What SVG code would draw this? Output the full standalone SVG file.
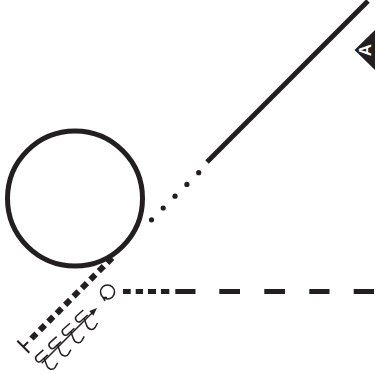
<svg xmlns="http://www.w3.org/2000/svg" width="377" height="374" viewBox="0 0 377 374">
<style>
.k{fill:none;stroke:#231f20}
.h{fill:none;stroke:#231f20;stroke-width:1.5}
</style>
<defs>
<g id="hooks">
<path class="h" d="M-1.7,-10L-8.5,-4C-11,-1.5 -8,3.5 -4.5,1.5L2.7,-5"/>
<path class="h" d="M-1,-2L1.5,5C3,10 8,10.5 10,7.5L12.5,3"/>
</g>
</defs>
<rect width="377" height="374" fill="#fff"/>
<g id="circle"><circle class="k" cx="75" cy="198.5" r="67.5" stroke-width="5"/></g>
<g id="triangle">
<path d="M354.5,50L375,30V70Z" fill="#231f20"/>
<text transform="translate(371,50) rotate(-90)" text-anchor="middle" font-family="Liberation Sans, sans-serif" font-weight="bold" font-size="17" fill="#fff">A</text>
</g>
<g id="small-circle">
<circle class="k" cx="107.5" cy="292" r="7" stroke-width="1.5"/>
<path class="k" stroke-width="1.5" d="M103,297.5L105,301M103,297.5L107,297.5"/>
</g>
<g id="connectors">
<path class="k" stroke-width="5" d="M207,162L368,1"/>
<g fill="#231f20">
<circle cx="151.5" cy="219.8" r="2.6"/><circle cx="163.2" cy="208" r="2.6"/><circle cx="175" cy="196.2" r="2.6"/><circle cx="186.9" cy="184.4" r="2.6"/><circle cx="198.7" cy="172.7" r="2.6"/>
</g>
<path class="k" stroke-width="5" d="M123,291.6H130.7M135.7,291.6H143M148,291.6H156M161,291.6H169.3M175.3,291.6H195.5M219.3,291.6H240M264.3,291.6H285M309.3,291.6H329.5M353.7,291.6H374"/>
<path class="k" stroke-width="6" stroke-dasharray="7 4.9" d="M31.5,338.5L113,257"/>
<path class="k" stroke-width="2" d="M17.3,340.7L29.3,352.7M23.3,346.7L28,342"/>
<path class="k" stroke-width="1.5" d="M41.7,363.3L93,312"/>
<path d="M97,308L89.3,311L93.3,315.7Z" fill="#231f20"/>
<use href="#hooks" x="85" y="320"/>
<use href="#hooks" x="71.7" y="333.3"/>
<use href="#hooks" x="58.4" y="346.6"/>
<use href="#hooks" x="45.1" y="359.9"/>
</g>
</svg>
